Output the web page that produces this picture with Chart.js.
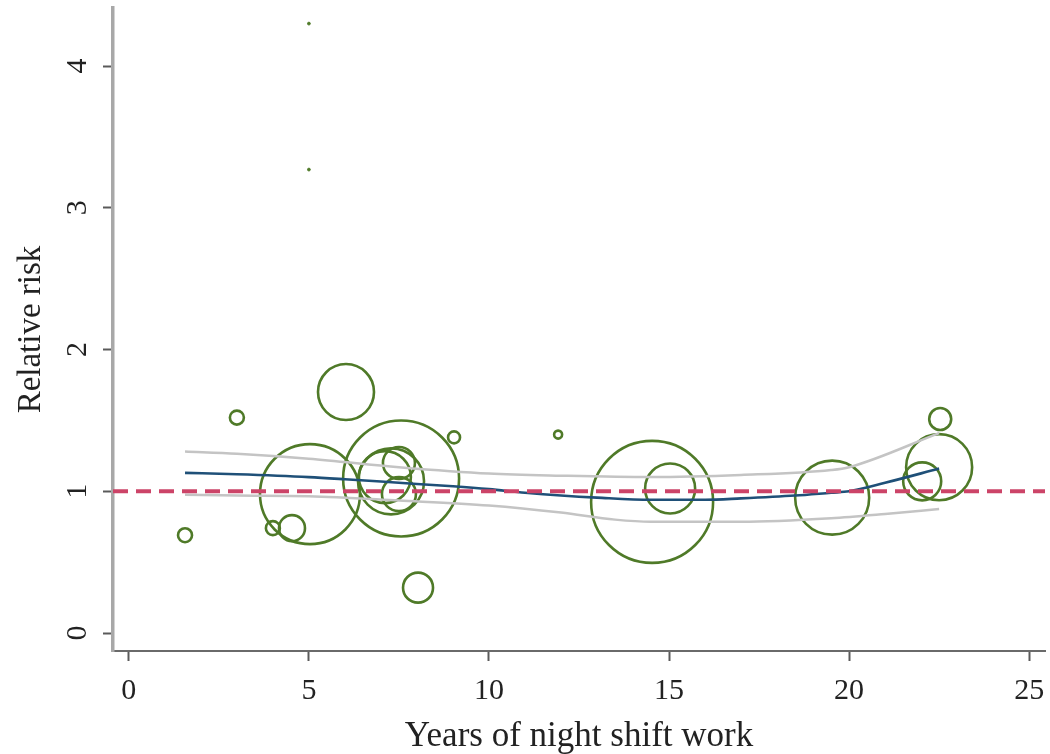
<!DOCTYPE html>
<html>
<head>
<meta charset="utf-8">
<script src="https://cdn.jsdelivr.net/npm/chart.js@4.4.1/dist/chart.umd.min.js"></script>
<style>
  html, body { margin: 0; padding: 0; background: #fff; }
  #chart { display: block; }
</style>
</head>
<body>
<canvas id="chart" width="1050" height="754"></canvas>
<script>
// Studies: years of night shift work, relative risk, relative weight (marker area)
const studyYears  = [1.56, 3.0, 4.0, 4.53, 5.03, 6.03, 7.56, 7.28, 7.11, 7.5, 7.5, 9.03, 8.03, 11.92, 14.53, 15.03, 19.53, 22.53, 22.5, 22.03, 5.0, 5.0];
const studyRR     = [0.69, 1.52, 0.74, 0.74, 0.98, 1.70, 1.09, 1.07, 1.10, 1.20, 0.98, 1.38, 0.32, 1.40, 0.925, 1.02, 0.955, 1.51, 1.17, 1.07, 4.30, 3.27];
const studyWeight = [0.49, 0.49, 0.49, 1.69, 25.0, 7.84, 33.6, 10.9, 6.76, 2.56, 2.89, 0.36, 2.25, 0.16, 37.2, 6.25, 13.7, 1.21, 10.9, 3.61, 0.02, 0.02];

// Dose-response fit and its confidence band
const fitYears = [1.56, 3, 5, 6, 7.5, 9, 10, 11, 12, 13, 14.5, 16, 17, 18.5, 19.5, 20, 21, 22.5];
const fitRR    = [1.13, 1.12, 1.10, 1.085, 1.06, 1.035, 1.015, 0.99, 0.97, 0.955, 0.94, 0.94, 0.95, 0.97, 0.99, 1.0, 1.06, 1.16];
const upperYears = [1.56, 3, 5, 7.5, 10, 12, 14.5, 17, 19.5, 20, 22.5];
const upperRR    = [1.28, 1.265, 1.23, 1.17, 1.125, 1.11, 1.10, 1.115, 1.15, 1.17, 1.41];
const lowerYears = [1.56, 3, 5, 7.5, 10, 12, 13.5, 14.5, 17, 19.5, 21, 22.5];
const lowerRR    = [0.975, 0.97, 0.965, 0.935, 0.90, 0.85, 0.80, 0.785, 0.785, 0.81, 0.84, 0.875];

const refRR = 1;
const xTicks = [0, 5, 10, 15, 20, 25];
const yTicks = [0, 1, 2, 3, 4];
const xRange = [-0.44, 25.44];
const yRange = [-0.127, 4.41];

const GREEN = '#4f7a28';
const serif = "'Liberation Serif', 'Times New Roman', serif";

const pts = (xs, ys) => xs.map((x, i) => ({ x, y: ys[i] }));
// Chart.js reserves room for half-labels at the ends; the reference doesn't
const noEdgePadding = (s) => { s.paddingTop = 0; s.paddingBottom = 0; s.paddingLeft = 0; s.paddingRight = 0; };

new Chart(document.getElementById('chart'), {
  data: {
    datasets: [
      {
        type: 'bubble',
        data: studyYears.map((x, i) => ({ x, y: studyRR[i], r: 10 * Math.sqrt(studyWeight[i]) })),
        borderColor: GREEN,
        backgroundColor: (ctx) => (ctx.raw && ctx.raw.r < 3 ? GREEN : 'rgba(0,0,0,0)'),
        borderWidth: (ctx) => (ctx.raw && ctx.raw.r < 3 ? 1 : 2.6),
        hoverRadius: 0,
        order: 4,
      },
      {
        type: 'line', data: pts(upperYears, upperRR),
        borderColor: '#c4c4c4', borderWidth: 2.5, pointRadius: 0, cubicInterpolationMode: 'monotone', order: 3,
      },
      {
        type: 'line', data: pts(lowerYears, lowerRR),
        borderColor: '#c4c4c4', borderWidth: 2.5, pointRadius: 0, cubicInterpolationMode: 'monotone', order: 3,
      },
      {
        type: 'line', data: pts(fitYears, fitRR),
        borderColor: '#1f5078', borderWidth: 2.6, pointRadius: 0, cubicInterpolationMode: 'monotone', order: 2,
      },
      {
        type: 'line', data: [{ x: xRange[0], y: refRR }, { x: xRange[1], y: refRR }],
        borderColor: '#cc4468', borderWidth: 4, borderDash: [15, 8], pointRadius: 0, order: 1,
      },
    ],
  },
  options: {
    responsive: false,
    animation: false,
    devicePixelRatio: 1,
    layout: { autoPadding: false, padding: { top: 8, right: 5, left: 0, bottom: 0 } },
    plugins: { legend: { display: false }, tooltip: { enabled: false } },
    scales: {
      x: {
        type: 'linear', min: xRange[0], max: xRange[1],
        afterFit: (s) => { s.height = 103; noEdgePadding(s); },
        afterBuildTicks: (s) => { s.ticks = xTicks.map((v) => ({ value: v })); },
        border: { display: true, color: '#6a6a6a', width: 2 },
        grid: { drawOnChartArea: false, drawTicks: true, tickLength: 10, tickColor: '#5a5a5a', tickWidth: 2 },
        ticks: { color: '#222', padding: 12, font: { family: serif, size: 30 }, maxRotation: 0 },
        title: { display: true, text: 'Years of night shift work', color: '#222', padding: { top: 0, bottom: 0 }, font: { family: serif, size: 35, lineHeight: 1 } },
      },
      y: {
        type: 'linear', min: yRange[0], max: yRange[1],
        afterFit: (s) => { s.width = 113; noEdgePadding(s); },
        afterBuildTicks: (s) => { s.ticks = yTicks.map((v) => ({ value: v })); },
        border: { display: true, color: '#a8a8a8', width: 3.5 },
        grid: { drawOnChartArea: false, drawTicks: true, tickLength: 10, tickColor: '#5a5a5a', tickWidth: 2 },
        ticks: { color: '#222', padding: 17, crossAlign: 'center', minRotation: 90, maxRotation: 90, font: { family: serif, size: 30 } },
        title: { display: true, text: 'Relative risk', color: '#222', padding: { top: 15, bottom: 0 }, font: { family: serif, size: 33, lineHeight: 1 } },
      },
    },
  },
});
</script>
</body>
</html>
